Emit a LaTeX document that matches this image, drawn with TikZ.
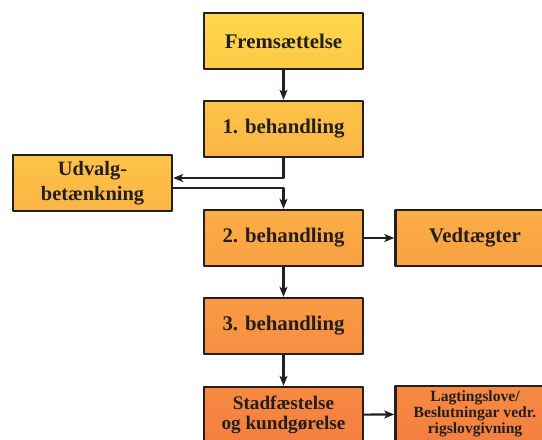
\documentclass[tikz,border=0pt]{standalone}
\usepackage{fontspec}
\setmainfont{Liberation Serif}
\usetikzlibrary{arrows.meta}
\definecolor{gA}{HTML}{FFD849}
\definecolor{gB}{HTML}{FDC946}
\definecolor{gC}{HTML}{FCC347}
\definecolor{gD}{HTML}{FBB545}
\definecolor{gE}{HTML}{FBAE46}
\definecolor{gF}{HTML}{F9A043}
\definecolor{gG}{HTML}{F89B44}
\definecolor{gH}{HTML}{F68E42}
\definecolor{gI}{HTML}{F68A42}
\definecolor{gJ}{HTML}{F47F3F}
\definecolor{lineC}{HTML}{231F20}
\begin{document}
\begin{tikzpicture}[x=1pt,y=-1pt,line join=round,>={Stealth[length=10pt,width=8pt,inset=2.5pt]},thick]
	\tikzset{box/.style={draw=lineC,line width=2.4pt,rectangle,minimum width=159pt,minimum height=56pt,
			inner sep=2pt,align=center,font=\bfseries\fontsize{20.8}{21}\selectfont,text=lineC},
		conn/.style={draw=lineC,line width=2.1pt,->}}
	\clip (0,0) rectangle (542,440);
	\fill[white] (0,0) rectangle (542,440);
	\node[box,top color=gA,bottom color=gB] (frem) at (283.5,41) {Fremsættelse};
	\node[box,top color=gC,bottom color=gD] (beh1) at (283.5,129) {1. behandling};
	\node[box,top color=gC,bottom color=gD,font=\bfseries\fontsize{20.4}{25}\selectfont] (udv) at (92.5,183) {Udvalg-\\betænkning};
	\node[box,top color=gE,bottom color=gF] (beh2) at (283.5,238) {2. behandling};
	\node[box,top color=gE,bottom color=gF] (vedt) at (475,238) {Vedtægter};
	\node[box,top color=gG,bottom color=gH] (beh3) at (283.5,326) {3. behandling};
	\node[box,top color=gI,bottom color=gJ,font=\bfseries\fontsize{19.2}{19.5}\selectfont] (stad) at (283.5,415) {Stadfæstelse\\og kundgørelse};
	\node[box,top color=gI,bottom color=gJ,font=\bfseries\fontsize{15.6}{16}\selectfont] (lagt) at (475,414) {Lagtingslove/\\Beslutningar vedr.\\rigslovgivning};
	% connectors
	\draw[conn] (frem) -- (beh1);
	\draw[conn] (beh1.south) |- ([yshift=5pt]udv.east);
	\draw[conn] ([yshift=-5pt]udv.east) -| (beh2.north);
	\draw[conn] (beh2) -- (vedt);
	\draw[conn] (beh2) -- (beh3);
	\draw[conn] (beh3) -- (stad);
	\draw[conn] (stad) -- (lagt);
\end{tikzpicture}
\end{document}
